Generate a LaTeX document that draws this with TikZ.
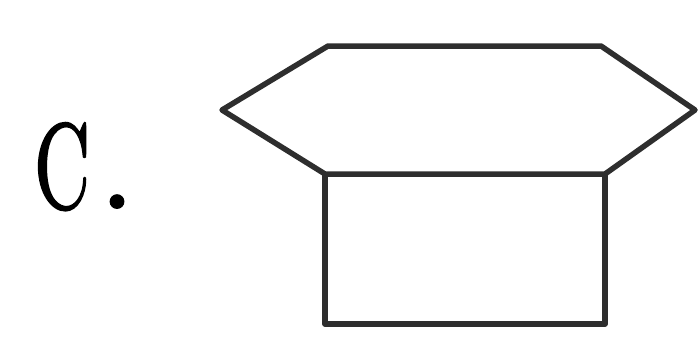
\documentclass[tikz,border=0pt]{standalone}
\usepackage{fontspec}
\newfontface\cface{lmroman10-regular.otf}[FakeBold=1.6]
\begin{document}
\begin{tikzpicture}[x=1pt,y=-1pt,
  shape line/.style={draw=black!82, line width=5.5pt, line join=round},
  big text/.style={inner sep=0pt, font=\cface\fontsize{121}{130}\selectfont}]
\useasboundingbox (0,0) rectangle (700,338);
\coordinate (tl) at (328,46);
\coordinate (tr) at (601,46);
\coordinate (rp) at (695,110);
\coordinate (br) at (605,174);
\coordinate (bl) at (325,174);
\coordinate (lp) at (222,110);
\coordinate (rb) at (605,324);
\coordinate (lb) at (325,324);
\draw[shape line] (tl) -- (tr) -- (rp) -- (br) -- (bl) -- (lp) -- cycle;
\draw[shape line] (bl) -- (lb) -- (rb) -- (br);
\node[big text, anchor=base west, xscale=0.64] (letter) at (34,208) {C};
\node[big text, anchor=base west] (dot) at (100,208) {.};
\end{tikzpicture}
\end{document}
